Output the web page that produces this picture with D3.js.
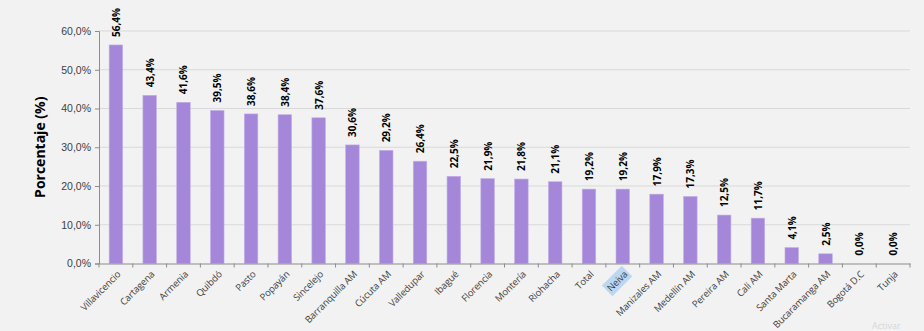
<!DOCTYPE html>
<html><head><meta charset="utf-8">
<script src="https://cdn.jsdelivr.net/npm/d3@7"></script>
<style>
html,body{margin:0;padding:0;background:#f2f2f2;}
svg{display:block;font-family:"Open Sans","Noto Sans",sans-serif;}
</style></head>
<body>
<svg id="chart" width="924" height="331"></svg>
<script>
const categories = ["Villavicencio","Cartagena","Armenia","Quibdó","Pasto","Popayán","Sincelejo","Barranquilla AM","Cúcuta AM","Valledupar","Ibagué","Florencia","Montería","Riohacha","Total","Neiva","Manizales AM","Medellín AM","Pereira AM","Cali AM","Santa Marta","Bucaramanga AM","Bogotá D.C","Tunja"];
const values = [56.4,43.4,41.6,39.5,38.6,38.4,37.6,30.6,29.2,26.4,22.5,21.9,21.8,21.1,19.2,19.2,17.9,17.3,12.5,11.7,4.1,2.5,0.0,0.0];
const yTicks = [0,10,20,30,40,50,60];
const highlighted = "Neiva";
const yTitle = "Porcentaje (%)";

const svg = d3.select("#chart");
const m = {left:99, right:14, top:31, bottom:67.5};
const W = 924, H = 331;
const fmt = v => d3.format(".1f")(v).replace(".", ",") + "%";

const x = d3.scaleBand().domain(categories).range([m.left, W - m.right]).paddingInner(0).paddingOuter(0);
const y = d3.scaleLinear().domain([0, 60]).range([H - m.bottom, m.top]);

// horizontal gridlines
svg.append("g").selectAll("line").data(yTicks.filter(d => d > 0)).join("line")
  .attr("x1", m.left).attr("x2", W - m.right)
  .attr("y1", d => y(d)).attr("y2", d => y(d))
  .attr("stroke", "#d9d9d9").attr("stroke-width", 1);

// y axis
const yAxis = svg.append("g").attr("transform", `translate(${m.left},0)`)
  .call(d3.axisLeft(y).tickValues(yTicks).tickFormat(fmt).tickSize(4).tickPadding(4));
yAxis.select(".domain").attr("stroke", "#8c8c8c");
yAxis.selectAll(".tick line").attr("stroke", "#8c8c8c");
yAxis.selectAll("text").attr("fill", "#404040").style("font-size", "10.5px");

// bars
const bw = x.bandwidth() * 0.4;
svg.append("g").selectAll("rect").data(values).join("rect")
  .attr("x", (d, i) => x(categories[i]) + (x.bandwidth() - bw) / 2)
  .attr("width", bw)
  .attr("y", d => y(d))
  .attr("height", d => y(0) - y(d))
  .attr("fill", "#a587d9")
  .attr("stroke", "#c2aee6").attr("stroke-width", 0.6);

// x axis
const xAxis = svg.append("g").attr("transform", `translate(0,${y(0)})`)
  .call(d3.axisBottom(x).tickSize(0).tickFormat(""));
xAxis.select(".domain").attr("stroke", "#8c8c8c");
const edges = categories.map(c => x(c)).concat([W - m.right]);
svg.append("g").selectAll("line").data(edges).join("line")
  .attr("x1", d => d).attr("x2", d => d)
  .attr("y1", y(0)).attr("y2", y(0) + 4)
  .attr("stroke", "#8c8c8c");

// category labels, rotated
const labG = svg.append("g");
categories.forEach(c => {
  const cx = x(c) + x.bandwidth() / 2 + 3, cy = y(0) + 9;
  const g = labG.append("g").attr("transform", `translate(${cx},${cy}) rotate(-45)`);
  const t = g.append("text").attr("text-anchor", "end").attr("dy", "0.35em")
    .attr("fill", "#404040").style("font-size", "9.5px").style("letter-spacing", "-0.15px").text(c);
  if (c === highlighted) {
    const b = t.node().getBBox();
    g.insert("rect", "text").attr("x", b.x - 2).attr("y", b.y - 1)
      .attr("width", b.width + 4).attr("height", b.height + 2).attr("fill", "#bcd7f2");
  }
});

// value labels, rotated
svg.append("g").selectAll("text").data(values).join("text")
  .attr("transform", (d, i) => `translate(${x(categories[i]) + x.bandwidth() / 2 + 4},${y(d) - 8}) rotate(-90)`)
  .attr("text-anchor", "start")
  .attr("fill", "#000").style("font-size", "10px").style("font-weight", "bold")
  .text(d => fmt(d));

// y title
svg.append("text")
  .attr("transform", `translate(45,${(m.top + y(0)) / 2}) rotate(-90)`)
  .attr("text-anchor", "middle").attr("fill", "#000")
  .style("font-size", "14px").style("font-weight", "bold").text(yTitle);

// faint watermark text
svg.append("text").attr("x", 872).attr("y", 329).attr("fill", "#d6d6d6")
  .style("font-size", "9px").text("Activar");
</script>
</body></html>
